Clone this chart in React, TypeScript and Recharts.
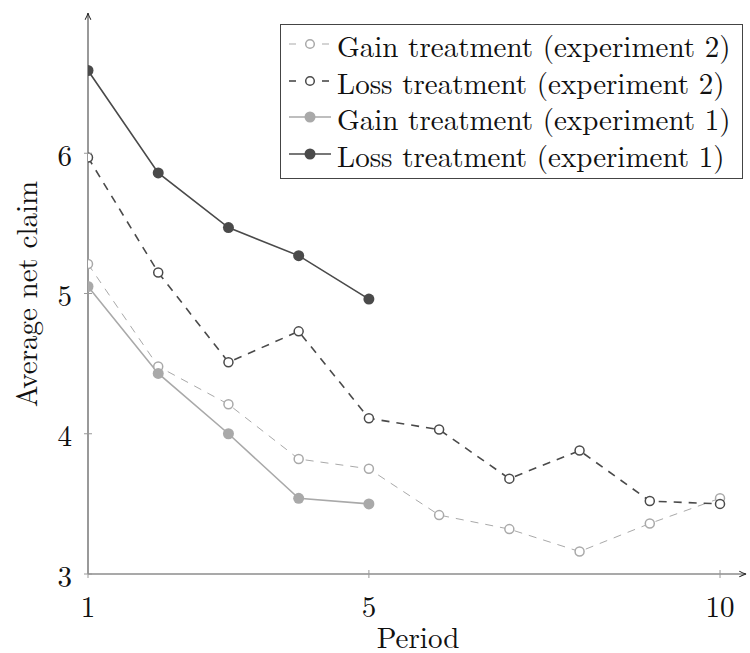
import React from 'react';
import { LineChart, Line, XAxis, YAxis, Legend, Label } from 'recharts';

const periods = [1, 2, 3, 4, 5, 6, 7, 8, 9, 10];
const gainExp2 = [5.21, 4.48, 4.21, 3.82, 3.75, 3.42, 3.32, 3.16, 3.36, 3.54];
const lossExp2 = [5.97, 5.15, 4.51, 4.73, 4.11, 4.03, 3.68, 3.88, 3.52, 3.5];
const gainExp1 = [5.05, 4.43, 4.0, 3.54, 3.5];
const lossExp1 = [6.59, 5.86, 5.47, 5.27, 4.96];
const xTicks = [1, 5, 10];
const yTicks = [3, 4, 5, 6];

const DARK = '#4a4a4a';
const LIGHT = '#a9a9a9';
const AXIS = '#555';
const FONT = "'Latin Modern Roman', 'Liberation Serif', serif";

const series = [
  { key: 'gainExp2', name: 'Gain treatment (experiment 2)', color: LIGHT, dashed: true, width: 1 },
  { key: 'lossExp2', name: 'Loss treatment (experiment 2)', color: DARK, dashed: true, width: 1.6 },
  { key: 'gainExp1', name: 'Gain treatment (experiment 1)', color: LIGHT, dashed: false, width: 1.6 },
  { key: 'lossExp1', name: 'Loss treatment (experiment 1)', color: DARK, dashed: false, width: 1.6 },
];

const data = periods.map((p, i) => ({
  period: p,
  gainExp2: gainExp2[i],
  lossExp2: lossExp2[i],
  gainExp1: gainExp1[i],
  lossExp1: lossExp1[i],
}));

function YTick(props: any) {
  const { x, y, payload } = props;
  return (
    <g>
      <line x1={x + 12} x2={x + 20} y1={y} y2={y} stroke="#999" strokeWidth={1} />
      <text x={x} y={y} textAnchor="end" dominantBaseline="central" fontFamily={FONT} fontSize={29} fill="#111">
        {payload.value}
      </text>
    </g>
  );
}

function XTick(props: any) {
  const { x, y, payload } = props;
  return (
    <g>
      <line x1={x} x2={x} y1={y - 34} y2={y - 26} stroke="#999" strokeWidth={1} />
      <text x={x} y={y} textAnchor="middle" dominantBaseline="central" fontFamily={FONT} fontSize={29} fill="#111">
        {payload.value}
      </text>
    </g>
  );
}

function renderLegend() {
  return (
    <div
      style={{
        border: '1.3px solid #444',
        background: '#fff',
        width: 461,
        height: 151,
        paddingTop: 2,
        boxSizing: 'content-box',
        fontFamily: FONT,
        fontSize: 29,
        color: '#111',
      }}
    >
      {series.map((s) => (
        <div
          key={s.key}
          style={{ display: 'flex', alignItems: 'center', height: 36.6, lineHeight: '36.6px', whiteSpace: 'nowrap', overflow: 'visible' }}
        >
          <svg width={56} height={20} style={{ flexShrink: 0, marginTop: -2 }}>
            {s.dashed ? (
              <>
                <line x1={8} x2={15} y1={10} y2={10} stroke={s.color} strokeWidth={s.width} />
                <line x1={41} x2={48} y1={10} y2={10} stroke={s.color} strokeWidth={s.width} />
                <circle cx={29} cy={10} r={4.3} fill="#fff" stroke={s.color} strokeWidth={1.5} />
              </>
            ) : (
              <>
                <line x1={8} x2={50} y1={10} y2={10} stroke={s.color} strokeWidth={s.width} />
                <circle cx={29} cy={10} r={5.5} fill={s.color} />
              </>
            )}
          </svg>
          <span style={{ lineHeight: '36.6px' }}>{s.name}</span>
        </div>
      ))}
    </div>
  );
}

export default function App() {
  return (
    <div style={{ position: 'absolute', left: 0, top: 0, width: 750, height: 653, background: '#fff' }}>
      <svg width={0} height={0} style={{ position: 'absolute' }}>
        <defs>
          <marker id="axisArrow" viewBox="0 0 10 10" refX={9} refY={5} markerWidth={7} markerHeight={7} orient="auto-start-reverse">
            <path d="M1,1.5 Q5,4 9,5 Q5,6 1,8.5" fill="none" stroke="#222" strokeWidth={1.2} />
          </marker>
        </defs>
      </svg>
      <LineChart width={750} height={653} data={data} margin={{ top: 13, right: 4, bottom: 29, left: 28 }}>
        <XAxis
          dataKey="period"
          type="number"
          domain={[1, 10.37]}
          allowDataOverflow
          ticks={xTicks}
          tickSize={0}
          tickMargin={30}
          tickLine={false}
          tick={<XTick />}
          height={50}
          axisLine={{ stroke: AXIS, strokeWidth: 1.2, markerEnd: 'url(#axisArrow)' }}
        >
          <Label
            content={() => (
              <text x={418} y={635} textAnchor="middle" dominantBaseline="central" fontFamily={FONT} fontSize={29} fill="#111">
                Period
              </text>
            )}
          />
        </XAxis>
        <YAxis
          type="number"
          domain={[3, 7]}
          allowDataOverflow
          ticks={yTicks}
          tickSize={0}
          tickMargin={16}
          tickLine={false}
          tick={<YTick />}
          width={60}
          axisLine={{ stroke: AXIS, strokeWidth: 1.2, markerStart: 'url(#axisArrow)' }}
        >
          <Label
            content={() => (
              <text
                x={24}
                y={294}
                transform="rotate(-90 24 294)"
                textAnchor="middle"
                dominantBaseline="central"
                fontFamily={FONT}
                fontSize={29}
                fill="#111"
              >
                Average net claim
              </text>
            )}
          />
        </YAxis>
        <Legend
          layout="horizontal"
          verticalAlign="middle"
          align="center"
          content={renderLegend}
          wrapperStyle={{ position: 'absolute', left: 280, top: 24, width: 'auto', height: 'auto' }}
        />
        {series.map((s) => (
          <Line
            key={s.key}
            dataKey={s.key}
            name={s.name}
            type="linear"
            stroke={s.color}
            strokeWidth={s.width}
            strokeDasharray={s.dashed ? '8 7' : undefined}
            dot={
              s.dashed
                ? { r: 4.5, fill: '#fff', stroke: s.color, strokeWidth: 1.5, strokeDasharray: 'none' }
                : { r: 5.5, fill: s.color, stroke: 'none' }
            }
            activeDot={false}
            isAnimationActive={false}
          />
        ))}
      </LineChart>
    </div>
  );
}
